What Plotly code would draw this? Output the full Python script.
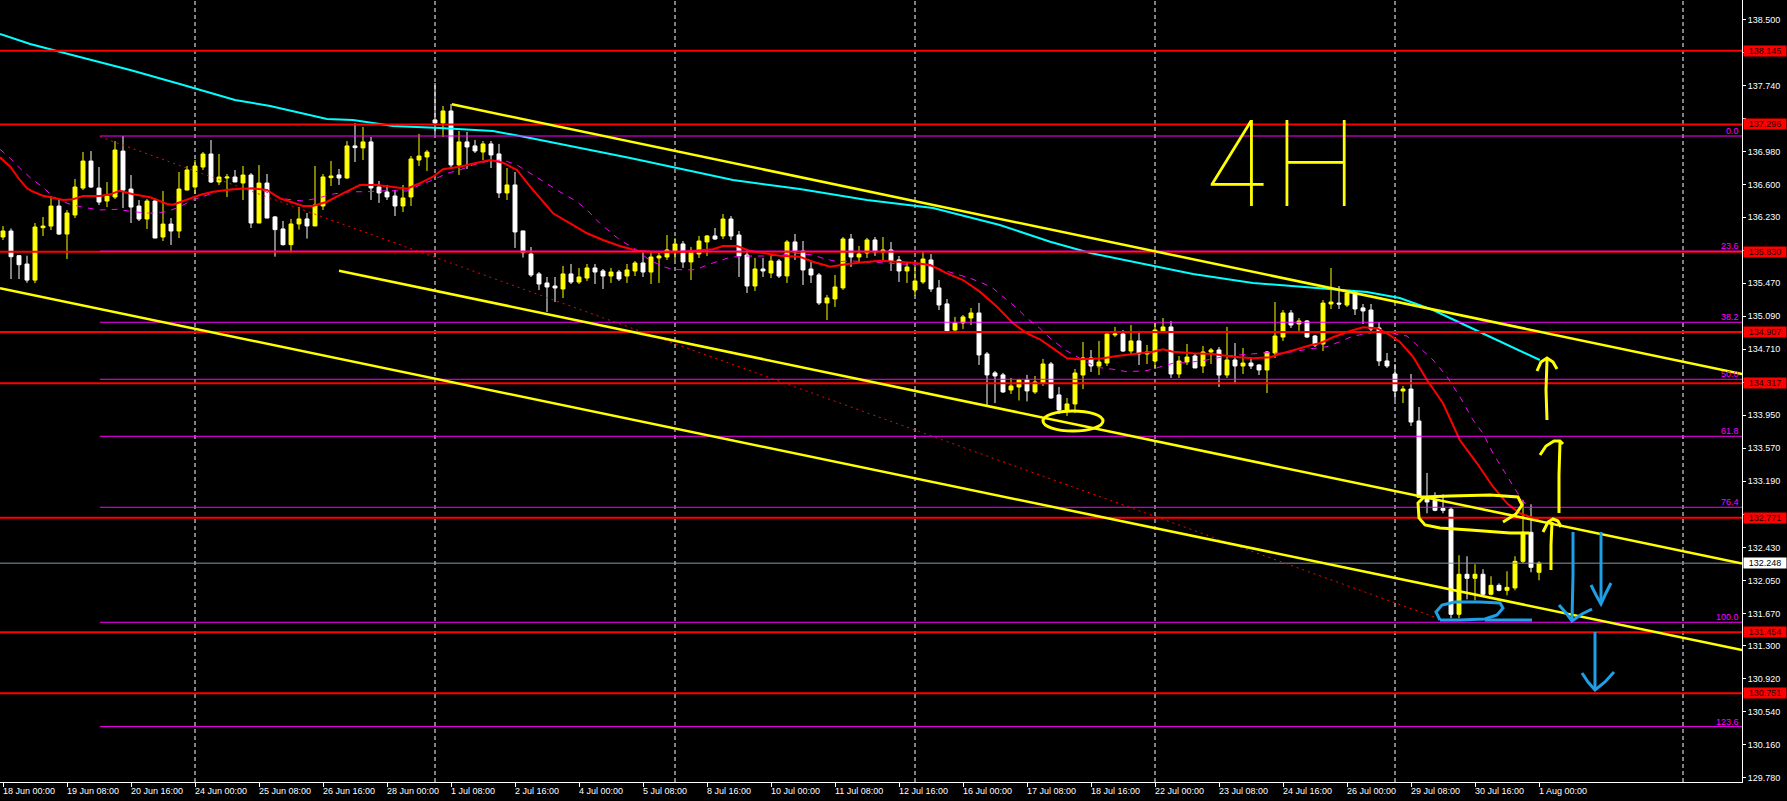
import plotly.graph_objects as go

# ---------------- data (H4 candles, bar index 0 = 18 Jun 00:00) ----------------
opens = [136.001,136.070,135.786,135.690,135.505,136.108,136.127,136.357,136.035,136.254,
         136.564,136.875,136.564,136.415,136.461,136.990,136.553,136.357,136.208,136.415,
         136.001,136.150,136.070,136.541,136.576,136.806,136.956,136.634,136.680,136.691,
         136.622,136.714,136.162,136.622,136.232,136.094,135.913,136.151,136.209,136.128,
         136.358,136.684,136.715,136.680,137.049,137.026,137.095,136.577,136.519,136.473,
         136.358,136.462,136.887,136.922,137.348,137.313,137.451,136.830,137.095,137.049,
         136.979,137.072,136.957,136.508,136.600,136.071,135.806,135.576,135.472,135.437,
         135.403,135.576,135.483,135.529,135.645,135.610,135.552,135.598,135.552,135.610,
         135.702,135.598,135.760,135.771,135.829,135.921,135.714,135.806,135.944,136.013,
         136.013,136.208,136.024,135.794,135.437,135.633,135.587,135.725,135.553,135.944,
         135.840,135.633,135.564,135.242,135.288,135.415,135.978,135.771,135.817,135.967,
         135.829,135.852,135.737,135.610,135.392,135.484,135.737,135.415,135.231,134.931,
         135.012,135.069,135.127,134.655,134.437,134.414,134.241,134.275,134.356,134.218,
         134.322,134.540,134.184,134.011,134.080,134.413,134.609,134.517,134.551,134.874,
         134.885,134.689,134.805,134.655,134.574,134.920,134.966,134.425,134.563,134.632,
         134.517,134.678,134.701,134.413,134.586,134.517,134.551,134.528,134.471,134.666,
         134.850,135.127,135.000,135.035,134.862,134.770,135.230,135.241,135.218,135.357,
         135.185,135.161,134.954,134.575,134.425,134.229,134.252,133.884,133.006,132.971,
         132.879,132.868,131.660,132.120,132.074,132.120,131.890,131.993,131.936,131.963,
         132.269,132.603,132.143]
highs = [136.127,136.100,135.794,135.786,136.162,136.231,136.472,136.438,136.311,136.668,
         136.979,136.990,136.806,136.633,137.105,137.163,136.714,136.426,136.438,136.449,
         136.530,136.219,136.749,136.818,136.887,136.979,137.117,136.956,136.726,136.772,
         136.818,136.737,136.829,136.726,136.243,136.186,136.209,136.347,136.278,136.818,
         136.726,136.876,136.784,137.106,137.313,137.267,137.152,136.646,136.600,136.542,
         136.600,136.933,137.187,137.003,137.773,137.509,137.532,137.221,137.210,137.118,
         137.106,137.106,137.072,136.795,136.749,136.071,135.886,135.598,135.541,135.541,
         135.668,135.691,135.645,135.691,135.691,135.633,135.645,135.622,135.691,135.725,
         135.829,135.840,135.829,136.024,135.990,135.955,135.886,136.013,136.024,136.105,
         136.266,136.243,136.070,135.852,135.760,135.760,135.783,135.748,135.967,136.036,
         135.955,135.714,135.587,135.334,135.564,136.001,136.036,135.898,135.990,136.001,
         136.001,135.944,135.783,135.702,135.679,135.829,135.806,135.507,135.288,135.081,
         135.104,135.184,135.242,134.678,134.460,134.437,134.379,134.368,134.414,134.402,
         134.598,134.563,134.276,134.149,134.482,134.793,134.701,134.805,134.885,134.966,
         134.931,134.989,134.920,134.758,135.012,135.069,135.035,134.632,134.770,134.666,
         134.747,134.724,134.735,134.966,134.781,134.724,134.620,134.540,134.689,135.253,
         135.161,135.161,135.069,135.046,134.874,135.276,135.644,135.437,135.380,135.368,
         135.230,135.230,135.023,134.666,134.540,134.287,134.425,134.045,133.286,133.063,
         133.040,132.891,132.339,132.327,132.235,132.178,132.097,132.016,132.155,132.327,
         132.971,132.925,132.269]
lows = [135.966,135.517,135.517,135.475,135.470,136.012,136.081,136.024,135.748,136.219,
        136.541,136.564,136.369,136.346,136.438,136.334,136.162,136.185,136.093,135.989,
        135.955,135.909,135.989,136.541,136.495,136.772,136.622,136.599,136.461,136.634,
        136.426,136.104,136.162,136.219,135.775,135.902,135.821,136.086,135.982,136.128,
        136.312,136.588,136.600,136.669,136.864,136.887,136.427,136.393,136.427,136.243,
        136.289,136.358,136.818,136.761,137.187,137.152,136.795,136.715,136.784,136.968,
        136.887,136.795,136.450,136.427,135.875,135.764,135.541,135.391,135.138,135.253,
        135.299,135.460,135.460,135.495,135.460,135.403,135.472,135.495,135.472,135.552,
        135.541,135.460,135.472,135.737,135.737,135.645,135.506,135.760,135.783,135.967,
        135.978,135.967,135.541,135.357,135.380,135.541,135.529,135.529,135.472,135.737,
        135.449,135.472,135.219,135.046,135.196,135.392,135.656,135.702,135.760,135.783,
        135.725,135.610,135.484,135.472,135.323,135.461,135.369,135.161,134.920,134.920,
        134.943,134.989,134.529,134.060,134.090,134.207,134.195,134.120,134.110,134.195,
        134.287,134.137,133.965,133.942,133.976,134.252,134.448,134.413,134.517,134.851,
        134.678,134.643,134.528,134.540,134.494,134.897,134.379,134.379,134.528,134.494,
        134.436,134.540,134.275,134.379,134.310,134.425,134.482,134.413,134.206,134.609,
        134.805,134.954,134.920,134.839,134.735,134.689,135.172,135.172,135.196,135.104,
        135.000,134.897,134.517,134.494,134.126,134.091,133.827,133.006,132.822,132.845,
        132.822,131.614,131.614,131.832,131.821,131.878,131.878,131.924,131.878,131.936,
        132.246,132.143,132.051]
closes = [136.070,135.774,135.682,135.505,136.116,136.127,136.357,136.035,136.277,136.576,
          136.875,136.576,136.403,136.472,137.002,136.541,136.346,136.208,136.415,135.989,
          136.150,136.070,136.553,136.772,136.818,136.956,136.634,136.691,136.691,136.634,
          136.714,136.162,136.622,136.219,136.086,135.913,136.151,136.209,136.128,136.370,
          136.692,136.703,136.680,137.049,137.029,137.095,136.565,136.508,136.462,136.358,
          136.450,136.899,136.933,136.979,137.313,137.451,136.830,137.095,137.037,136.991,
          137.072,136.945,136.508,136.600,136.059,135.821,135.564,135.460,135.426,135.414,
          135.576,135.483,135.541,135.645,135.598,135.552,135.598,135.518,135.622,135.702,
          135.598,135.771,135.783,135.852,135.921,135.714,135.829,135.955,136.013,135.978,
          136.208,136.013,135.783,135.437,135.633,135.610,135.725,135.552,135.944,135.829,
          135.622,135.564,135.242,135.300,135.426,135.978,135.771,135.806,135.967,135.829,
          135.852,135.725,135.610,135.656,135.495,135.748,135.403,135.219,134.920,135.012,
          135.081,135.127,134.644,134.414,134.402,134.218,134.287,134.356,134.230,134.333,
          134.540,134.149,134.011,134.080,134.436,134.609,134.517,134.563,134.885,134.885,
          134.689,134.805,134.655,134.678,134.931,134.966,134.425,134.574,134.620,134.494,
          134.678,134.701,134.413,134.586,134.517,134.551,134.517,134.471,134.678,134.862,
          135.127,134.988,135.035,134.850,134.758,135.241,135.253,135.230,135.357,135.173,
          135.150,134.943,134.575,134.517,134.229,134.252,133.872,133.006,132.952,132.856,
          132.856,131.660,132.120,132.074,132.120,131.890,131.993,131.936,131.970,132.269,
          132.603,132.200,132.248]
bars = list(range(len(opens)))

xtick_idx = list(range(0, 193, 8))
xtick_text = ["18 Jun 00:00", "19 Jun 08:00", "20 Jun 16:00", "24 Jun 00:00", "25 Jun 08:00",
              "26 Jun 16:00", "28 Jun 00:00", "1 Jul 08:00", "2 Jul 16:00", "4 Jul 00:00",
              "5 Jul 08:00", "8 Jul 16:00", "10 Jul 00:00", "11 Jul 08:00", "12 Jul 16:00",
              "16 Jul 00:00", "17 Jul 08:00", "18 Jul 16:00", "22 Jul 00:00", "23 Jul 08:00",
              "24 Jul 16:00", "26 Jul 00:00", "29 Jul 08:00", "30 Jul 16:00", "1 Aug 00:00"]
ytick_vals = [138.50, 138.12, 137.74, 137.36, 136.98, 136.60, 136.23, 135.85, 135.47, 135.09,
              134.71, 134.33, 133.95, 133.57, 133.19, 132.81, 132.43, 132.05, 131.67, 131.30,
              130.92, 130.54, 130.16, 129.78]
# tick labels hidden behind the price-line labels are left blank
ytick_hidden = [138.12, 137.36, 135.85, 134.33, 132.81]
ytick_text = ["" if v in ytick_hidden else "%.3f" % v for v in ytick_vals]

# moving averages: (bar index, price)
red_ma = [(-0.375,136.918),(0.9,136.810),(2.1,136.657),(3,136.561),(3.75,136.522),(5,136.476),
          (6.25,136.453),(7.5,136.427),(8.75,136.435),(10,136.473),(12.1,136.473),(13.4,136.492),
          (14.6,136.534),(16.25,136.492),(18.4,136.458),(20.5,136.381),(21.25,136.373),(23,136.427),
          (24.6,136.484),(26.25,136.522),(28.75,136.550),(31.25,136.561),(33,136.542),(34.6,136.446),
          (37.5,136.358),(38.75,136.358),(40.5,136.407),(42.5,136.504),(44.6,136.599),(46.75,136.599),
          (48.75,136.573),(50.5,136.557),(52.1,136.619),(53.75,136.695),(55,136.780),(57.1,136.810),
          (59.25,136.856),(60.9,136.887),(62.5,136.856),(64.25,136.772),(65.9,136.580),(68.75,136.274),
          (70.9,136.159),(73,136.044),(75,135.967),(77.1,135.898),(79.25,135.843),(81.25,135.829),
          (84.25,135.825),(87.1,135.843),(88.75,135.860),(90,135.898),(91.75,135.898),(93.4,135.840),
          (95,135.814),(97.1,135.786),(99.6,135.774),(101.25,135.717),(103.4,135.659),(105.5,135.690),
          (107.5,135.710),(109.6,135.728),(111.75,135.717),(113.75,135.705),(115.9,135.679),(118,135.583),
          (120,135.506),(122.1,135.372),(124.25,135.199),(126.25,135.008),(128,134.893),(129.6,134.824),
          (131.25,134.720),(133,134.605),(134.6,134.594),(137.5,134.605),(139.25,134.632),(141.25,134.655),
          (143.75,134.681),(145,134.709),(146.25,134.681),(148.75,134.663),(151.25,134.655),(153.75,134.624),
          (156.25,134.605),(158.4,134.617),(159.6,134.655),(161.75,134.709),(163.4,134.755),(164.6,134.778),
          (166.25,134.847),(168.4,134.920),(170,134.962),(171.75,134.951),(173,134.893),(174.6,134.796),
          (176.25,134.624),(178,134.356),(180,134.088),(182.1,133.665),(184.25,133.397),(186.25,133.128),
          (188,132.937),(189.6,132.822),(191.25,132.764),(192,132.745)]
magenta_ma = [(-0.375,137.010),(0.9,136.907),(2.1,136.792),(3.75,136.657),(5,136.573),(6.25,136.465),
              (8,136.389),(10,136.343),(12.1,136.312),(14.25,136.320),(16.25,136.292),(18.4,136.274),
              (20.5,136.292),(22.1,136.350),(23.75,136.427),(25.5,136.484),(27.1,136.534),(29.6,136.561),
              (32.1,136.553),(33.75,136.484),(35.5,136.435),(37.5,136.415),(39.25,136.446),(41.25,136.496),
              (43.4,136.522),(45.5,136.522),(48,136.534),(50.5,136.530),(52.1,136.599),(53.75,136.657),
              (55.5,136.734),(57.1,136.772),(58.75,136.830),(60.9,136.879),(62.5,136.887),(64.25,136.830),
              (65.9,136.734),(67.75,136.634),(69.6,136.522),(71.75,136.407),(73,136.312),(74.6,136.159),
              (75.9,136.062),(77.1,135.967),(79.25,135.852),(80.5,135.756),(82.5,135.659),(83.75,135.629),
              (85.5,135.621),(86.75,135.629),(88,135.679),(89.25,135.717),(90.9,135.768),(93,135.782),
              (95,135.782),(97.5,135.794),(99.25,135.814),(101.25,135.794),(102.5,135.756),(104.25,135.717),
              (106.25,135.725),(108.75,135.710),(110.9,135.698),(113,135.687),(115,135.690),(116.75,135.641),
              (118.75,135.583),(120.9,135.526),(122.5,135.468),(123.75,135.411),(125.5,135.276),(126.75,135.181),
              (128,135.066),(129.6,134.950),(130.9,134.836),(132.75,134.701),(134.6,134.606),(136.75,134.502),
              (138.75,134.479),(140.5,134.451),(143,134.463),(144.6,134.509),(146.25,134.548),(148,134.555),
              (150.5,134.586),(153,134.632),(155.5,134.651),(158,134.670),(159.6,134.663),(161.25,134.681),
              (163,134.709),(165.5,134.739),(167.1,134.796),(168.75,134.862),(171.25,134.900),(173.4,134.893),
              (175.5,134.862),(176.75,134.758),(178.75,134.586),(180.5,134.394),(182.1,134.164),(183.75,133.896),
              (185,133.742),(186.25,133.512),(188,133.243),(189.6,133.013),(190.9,132.860)]
cyan_ma = [(-0.375,138.337),(3.4,138.222),(9.6,138.072),(15.9,137.923),(22.1,137.762),(29,137.577),
           (33.4,137.508),(37.1,137.428),(40.5,137.359),(43.75,137.347),(48.75,137.278),(54.6,137.255),
           (61.25,137.221),(65.9,137.140),(78.4,136.910),(91.25,136.657),(99.6,136.553),(108,136.427),
           (116.25,136.335),(124.6,136.139),(130.9,135.947),(135.9,135.817),(142.1,135.702),(148.75,135.575),
           (156.25,135.472),(162.1,135.426),(170.5,135.368),(174.6,135.299),(178.75,135.161),(184.6,134.908),
           (192.1,134.586)]

# chart objects
red_levels = [138.145, 137.296, 135.830, 134.907, 134.317, 132.771, 131.454, 130.751]
fib_start = 12.1
fib_levels = [("0.0", 137.163), ("23.6", 135.838), ("38.2", 135.020), ("50.0", 134.364),
              ("61.8", 133.708), ("76.4", 132.891), ("100.0", 131.568), ("123.6", 130.367)]
bid_price = 132.248
grid_bars = [24, 54, 84, 114, 144, 174, 210]
trend_lines = [((56.1, 137.528), (217.375, 134.424)),
               ((42.0, 135.613), (217.375, 132.245)),
               ((-0.375, 135.411), (217.375, 131.249))]
fib_diag = ((12.1, 137.155), (180.75, 131.568))

X_RANGE = [-0.375, 217.375]
Y_RANGE = [129.730, 138.728]
PW, PH = 1742, 782  # plot area in px

# hand-drawn marks (screen pixels of the plot area)
yellow_strokes = [
    [(1547, 420), (1546, 390), (1547, 360)],
    [(1537, 371), (1541, 362), (1547, 358), (1553, 362), (1557, 369)],
    [(1559, 513), (1559, 475), (1560, 442)],
    [(1540, 455), (1546, 446), (1554, 441), (1560, 441), (1563, 444)],
    [(1551, 570), (1551, 545), (1552, 522)],
    [(1543, 532), (1548, 522), (1553, 519), (1558, 521), (1561, 527)],
    [(1503, 522), (1516, 514), (1522, 505), (1518, 497), (1490, 495), (1450, 496), (1424, 497),
     (1418, 503), (1419, 518), (1425, 525), (1440, 528), (1470, 530), (1510, 533), (1529, 533)],
]
yellow_loops = [((1043, 411), (1103, 431))]
blue_strokes = [
    [(1573, 532), (1573, 575), (1572, 620)],
    [(1559, 605), (1566, 613), (1572, 621), (1582, 614), (1592, 609)],
    [(1601, 532), (1601, 570), (1601, 604)],
    [(1591, 585), (1596, 595), (1601, 604), (1606, 593), (1611, 583)],
    [(1595, 632), (1595, 665), (1595, 690)],
    [(1582, 673), (1588, 682), (1595, 690), (1605, 682), (1614, 672)],
    [(1440, 620), (1436, 612), (1442, 605), (1455, 602), (1480, 602), (1500, 603), (1503, 608),
     (1497, 615), (1485, 619), (1460, 620), (1440, 620)],
    [(1485, 620), (1532, 620)],
]

YELLOW = "#FFFF00"
BLUE = "#1E9FE6"
FONT = "Liberation Sans"


def px_path(pts):
    return "M " + " L ".join("%.5f,%.5f" % (x / PW, 1 - y / PH) for x, y in pts)


fig = go.Figure()
fig.add_trace(go.Candlestick(
    x=bars, open=opens, high=highs, low=lows, close=closes,
    increasing=dict(line=dict(color=YELLOW, width=1), fillcolor=YELLOW),
    decreasing=dict(line=dict(color="#FFFFFF", width=1), fillcolor="#FFFFFF"),
    whiskerwidth=0, hoverinfo="skip", showlegend=False))
for pts, col, w, dash in [(cyan_ma, "#00FFFF", 2, "solid"),
                          (magenta_ma, "#FF00FF", 1, "6px,6px"),
                          (red_ma, "#FF0000", 2, "solid")]:
    fig.add_trace(go.Scatter(x=[p[0] for p in pts], y=[p[1] for p in pts], mode="lines",
                             line=dict(color=col, width=w, dash=dash),
                             hoverinfo="skip", showlegend=False))

shapes = []
for g in grid_bars:
    shapes.append(dict(type="line", xref="x", yref="paper", x0=g, x1=g, y0=0, y1=1, layer="below",
                       line=dict(color="#FFFFFF", width=1, dash="4px,3px")))
shapes.append(dict(type="line", xref="paper", yref="y", x0=0, x1=1, y0=bid_price, y1=bid_price,
                   line=dict(color="#8795A3", width=1)))
for p in red_levels:
    shapes.append(dict(type="line", xref="paper", yref="y", x0=0, x1=1, y0=p, y1=p,
                       line=dict(color="#FF0000", width=2)))
for lab, p in fib_levels:
    shapes.append(dict(type="line", xref="x", yref="y", x0=fib_start, x1=X_RANGE[1], y0=p, y1=p,
                       line=dict(color="#FF00FF", width=1)))
(fx0, fy0), (fx1, fy1) = fib_diag
shapes.append(dict(type="line", xref="x", yref="y", x0=fx0, y0=fy0, x1=fx1, y1=fy1,
                   line=dict(color="#FF0000", width=1, dash="2px,4px")))
for (x0, y0), (x1, y1) in trend_lines:
    shapes.append(dict(type="line", xref="x", yref="y", x0=x0, y0=y0, x1=x1, y1=y1,
                       line=dict(color=YELLOW, width=2.5)))
for s in yellow_strokes:
    shapes.append(dict(type="path", xref="paper", yref="paper", path=px_path(s),
                       line=dict(color=YELLOW, width=3)))
for (a, b), (c, d) in yellow_loops:
    shapes.append(dict(type="circle", xref="paper", yref="paper", x0=a / PW, x1=c / PW,
                       y0=1 - b / PH, y1=1 - d / PH, line=dict(color=YELLOW, width=3)))
for s in blue_strokes:
    shapes.append(dict(type="path", xref="paper", yref="paper", path=px_path(s),
                       line=dict(color=BLUE, width=3)))

ann = []
for i, t in zip(xtick_idx, xtick_text):
    ann.append(dict(x=i, xref="x", y=0, yref="paper", yanchor="top", xanchor="left", xshift=-2,
                    yshift=-2, text=t, showarrow=False, font=dict(family=FONT, size=9, color="#FFFFFF")))
for lab, p in fib_levels:
    ann.append(dict(x=1, xref="paper", y=p, yref="y", xanchor="right", yanchor="bottom",
                    xshift=-1, yshift=-2, text=lab, showarrow=False,
                    font=dict(family=FONT, size=9, color="#FF00FF")))
for p in red_levels:
    ann.append(dict(x=1, xref="paper", y=p, yref="y", xanchor="left", yanchor="middle", xshift=1,
                    text="%.3f" % p, showarrow=False, bgcolor="#FF0000", width=42, height=10,
                    borderpad=0, font=dict(family=FONT, size=9, color="#1A0000")))
ann.append(dict(x=1, xref="paper", y=bid_price, yref="y", xanchor="left", yanchor="middle",
                xshift=1, text="%.3f" % bid_price, showarrow=False, bgcolor="#FFFFFF", width=42,
                height=10, borderpad=0, font=dict(family=FONT, size=9, color="#000000")))
ann.append(dict(x=1280 / PW, xref="paper", y=1 - 163 / PH, yref="paper", xanchor="center",
                yanchor="middle", text="4H", showarrow=False,
                font=dict(family="Inter", size=118, color=YELLOW, weight=100)))

fig.update_layout(
    width=1787, height=801, autosize=False,
    margin=dict(l=0, r=1787 - PW, t=0, b=801 - PH),
    paper_bgcolor="#000000", plot_bgcolor="#000000",
    shapes=shapes, annotations=ann, showlegend=False,
    xaxis=dict(range=X_RANGE, tickvals=xtick_idx, ticks="outside", ticklen=4, tickcolor="#FFFFFF",
               showticklabels=False, showgrid=False, zeroline=False, showline=True,
               linecolor="#FFFFFF", linewidth=1, rangeslider=dict(visible=False), automargin=False),
    yaxis=dict(range=Y_RANGE, side="right", tickvals=ytick_vals, ticktext=ytick_text,
               ticks="outside", ticklen=3, tickcolor="#FFFFFF", showgrid=False, zeroline=False,
               showline=True, linecolor="#FFFFFF", linewidth=1, automargin=False,
               tickfont=dict(family=FONT, size=9, color="#FFFFFF")),
)

fig.write_html("out.html", config={"displayModeBar": False},
               post_script="document.body.style.margin='0';document.body.style.overflow='hidden';")
